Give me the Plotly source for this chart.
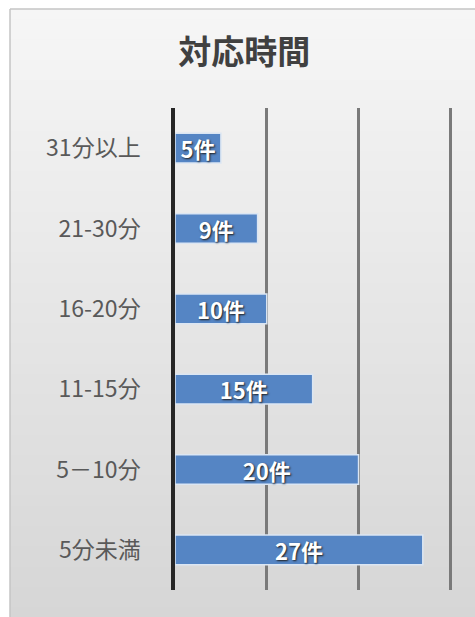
import plotly.graph_objects as go

# Response-time buckets (bottom to top) and case counts
categories = ["5分未満", "5－10分", "11-15分", "16-20分", "21-30分", "31分以上"]
counts = [27, 20, 15, 10, 9, 5]
labels = [f"{c}件" for c in counts]

W, H = 475, 617
ML, MR, MT, MB = 175, 21, 108, 27
PW, PH = W - ML - MR, H - MT - MB
JP = "Noto Sans CJK JP, Noto Sans, sans-serif"


def px_x(x):
    """pixel column -> paper x"""
    return (x - ML) / PW


def px_y(y):
    """pixel row (from top) -> paper y"""
    return (H - MB - y) / PH


fig = go.Figure(
    go.Bar(
        x=counts,
        y=categories,
        orientation="h",
        text=labels,
        textposition="inside",
        insidetextanchor="middle",
        constraintext="none",
        textfont=dict(family=JP, size=22, color="white", weight="bold",
                      shadow="1px 1px 2px #1e1e1e"),
        marker=dict(color="#5585c4", line=dict(color="#dbe6f3", width=1.5)),
        hoverinfo="skip",
    )
)

# Chart area background: soft vertical gradient from near-white to light gray
shapes = []
top_px, bot_px, left_px = 9, H, 10
n = 60
c_top = (246, 246, 246)
c_bot = (214, 214, 214)
for i in range(n):
    t = i / (n - 1)
    col = tuple(round(c_top[k] + (c_bot[k] - c_top[k]) * t) for k in range(3))
    ya = top_px + (bot_px - top_px) * i / n
    yb = top_px + (bot_px - top_px) * (i + 1) / n + 0.8
    shapes.append(dict(type="rect", xref="paper", yref="paper",
                       x0=px_x(left_px), x1=px_x(W), y0=px_y(yb), y1=px_y(ya),
                       fillcolor="rgb(%d,%d,%d)" % col, line=dict(width=0),
                       layer="below"))
# chart border (left and top)
shapes.append(dict(type="line", xref="paper", yref="paper",
                   x0=px_x(left_px), x1=px_x(left_px), y0=px_y(bot_px), y1=px_y(top_px),
                   line=dict(color="#c4c4c4", width=1.5), layer="below"))
shapes.append(dict(type="line", xref="paper", yref="paper",
                   x0=px_x(left_px), x1=px_x(W), y0=px_y(top_px), y1=px_y(top_px),
                   line=dict(color="#c4c4c4", width=1.5), layer="below"))

fig.update_layout(
    width=W, height=H,
    margin=dict(l=ML, r=MR, t=MT, b=MB),
    paper_bgcolor="white",
    plot_bgcolor="rgba(0,0,0,0)",
    bargap=0.63,
    showlegend=False,
    shapes=shapes,
    title=dict(text="<b>対応時間</b>", x=0.514, xanchor="center",
               y=1 - 52 / H, yanchor="middle", yref="container",
               font=dict(family=JP, size=33, color="#404040")),
)
fig.update_xaxes(range=[0, 30.4], dtick=10, showticklabels=False,
                 showgrid=True, gridcolor="#7a7a7a", gridwidth=2.5,
                 zeroline=False, showline=False)
fig.update_yaxes(type="category", categoryorder="array", categoryarray=categories,
                 showline=True, linecolor="#262626", linewidth=3.5,
                 showgrid=False, ticks="", ticklabelstandoff=26,
                 tickfont=dict(family=JP, size=23, color="#595959"))

fig.write_html("out.html")
